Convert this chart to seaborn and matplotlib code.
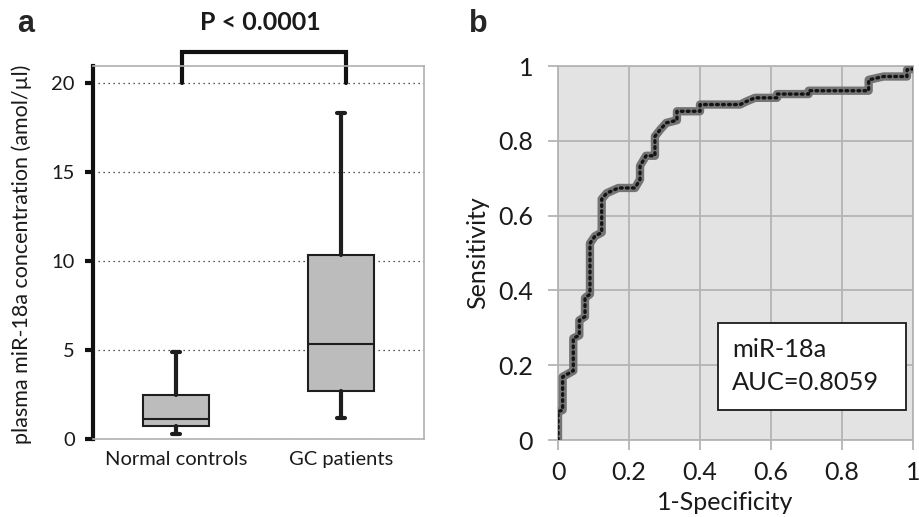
import matplotlib
matplotlib.use("Agg")
import matplotlib.pyplot as plt
import seaborn as sns
from matplotlib.patches import Rectangle

# panel a: box summary
groups = ["Normal controls", "GC patients"]
whisker_low = [0.28, 1.18]
q1 = [0.74, 2.70]
median = [1.12, 5.34]
q3 = [2.47, 10.34]
whisker_high = [4.88, 18.3]
y_ticks = [0, 5, 10, 15, 20]
p_text = "P < 0.0001"

# panel b: ROC curve vertices
fpr = [0.0, 0.0, 0.013, 0.013, 0.03, 0.043, 0.043, 0.06, 0.06, 0.076, 0.076,
       0.09, 0.09, 0.104, 0.123, 0.123, 0.137, 0.17, 0.217, 0.231, 0.231,
       0.248, 0.273, 0.273, 0.288, 0.305, 0.335, 0.335, 0.4, 0.4, 0.513,
       0.53, 0.555, 0.617, 0.617, 0.706, 0.706, 0.875, 0.875, 0.917, 0.983,
       0.983, 1.0]
tpr = [0.0, 0.076, 0.08, 0.169, 0.178, 0.185, 0.272, 0.28, 0.32, 0.33, 0.38,
       0.39, 0.526, 0.545, 0.555, 0.644, 0.66, 0.674, 0.674, 0.697, 0.733,
       0.76, 0.76, 0.812, 0.83, 0.848, 0.855, 0.879, 0.879, 0.897, 0.897,
       0.905, 0.915, 0.915, 0.925, 0.925, 0.934, 0.934, 0.963, 0.972, 0.972,
       0.99, 0.992]
roc_ticks = [0, 0.2, 0.4, 0.6, 0.8, 1]
roc_ticklabels = ["0", "0.2", "0.4", "0.6", "0.8", "1"]
marker_name = "miR-18a"
auc_label = "AUC=0.8059"

sns.set_theme(style="white")
plt.rcParams["font.family"] = ["Lato", "DejaVu Sans"]

fig = plt.figure(figsize=(9.19, 5.17), dpi=100)

# ---------------- panel a
ax1 = fig.add_axes([0.1012, 0.1509, 0.3602, 0.7215])
stats = []
for i, g in enumerate(groups):
    stats.append(dict(label=g, whislo=whisker_low[i], q1=q1[i], med=median[i],
                      q3=q3[i], whishi=whisker_high[i], fliers=[]))
ax1.bxp(stats, positions=[0, 1], widths=0.4, patch_artist=True,
        capwidths=0.05, showfliers=False,
        boxprops=dict(facecolor="#bcbcbc", edgecolor="#1e1e1e", linewidth=1.5),
        medianprops=dict(color="#1e1e1e", linewidth=1.5),
        whiskerprops=dict(color="#1e1e1e", linewidth=3),
        capprops=dict(color="#1e1e1e", linewidth=3))
ax1.set_xlim(-0.5, 1.5)
ax1.set_ylim(0, 20.95)
ax1.set_yticks(y_ticks)
ax1.set_xticks([0, 1])
ax1.set_xticklabels(groups)
ax1.yaxis.grid(True, linestyle=(0, (1, 3)), color="#222222", linewidth=0.9)
ax1.set_axisbelow(True)
for s in ["top", "right", "bottom"]:
    ax1.spines[s].set_color("#b0b0b0")
    ax1.spines[s].set_linewidth(1.2)
ax1.spines["left"].set_color("#111111")
ax1.spines["left"].set_linewidth(3)
ax1.tick_params(axis="y", length=6, width=3, color="#111111", left=True,
                labelsize=14.5, pad=7, labelcolor="#1a1a1a")
ax1.tick_params(axis="x", length=0, labelsize=14.5, pad=9, labelcolor="#1a1a1a")

# significance bracket
bx = [0.036, 0.036, 1.03, 1.03]
by = [20, 21.74, 21.74, 20]
ax1.plot(bx, by, color="#111111", linewidth=3, clip_on=False,
         solid_joinstyle="miter")
ax1.text(0.51, 23.4, p_text, ha="center", va="center", fontsize=18,
         fontweight="bold", color="#1a1a1a")

fig.text(22 / 919, 0.509, "plasma miR-18a concentration (amol/\u00b5l)",
         rotation=90, ha="center", va="center", fontsize=15.5, color="#1a1a1a")

# ---------------- panel b
ax2 = fig.add_axes([0.6072, 0.1489, 0.3863, 0.7234])
ax2.set_facecolor("#e3e3e3")
sns.lineplot(x=fpr, y=tpr, sort=False, estimator=None, ax=ax2,
             color="#747474", linewidth=6, zorder=3)
sns.lineplot(x=fpr, y=tpr, sort=False, estimator=None, ax=ax2,
             color="#141414", linewidth=2.4, linestyle=(0, (0.5, 1.3)),
             dash_capstyle="round", zorder=4)
ax2.set_xlim(0, 1)
ax2.set_ylim(0, 1)
ax2.set_xticks(roc_ticks)
ax2.set_xticklabels(roc_ticklabels)
ax2.set_yticks(roc_ticks)
ax2.set_yticklabels(roc_ticklabels)
ax2.grid(True, color="#b4b4b4", linewidth=1.3)
ax2.set_axisbelow(True)
for s in ax2.spines.values():
    s.set_color("#b4b4b4")
    s.set_linewidth(1.3)
ax2.tick_params(axis="y", length=7, width=1.3, color="#b4b4b4", left=True,
                labelsize=18, labelcolor="#1a1a1a", pad=11)
ax2.tick_params(axis="x", length=7, width=1.3, color="#b4b4b4", bottom=True,
                labelsize=18, labelcolor="#1a1a1a", pad=8)
fig.text(725 / 919, 1 - 510 / 517, "1-Specificity", fontsize=18,
         color="#1a1a1a", ha="center", va="baseline")
fig.text(478 / 919, 1 - 253 / 517, "Sensitivity", fontsize=18,
         color="#1a1a1a", ha="center", va="center", rotation=90)

ax2.add_patch(Rectangle((0.451, 0.080), 0.529, 0.233, transform=ax2.transAxes,
                        facecolor="white", edgecolor="#1a1a1a", linewidth=1.3,
                        zorder=6))
ax2.text(0.49, 0.241, marker_name, transform=ax2.transAxes, fontsize=18.3,
         va="center", ha="left", color="#1a1a1a", zorder=7)
ax2.text(0.49, 0.155, auc_label, transform=ax2.transAxes, fontsize=18.3,
         va="center", ha="left", color="#1a1a1a", zorder=7)

# panel letters
fig.text(26 / 919, 1 - 32 / 517, "a", fontsize=22, fontweight="bold",
         family="Liberation Sans", ha="center", va="baseline")
fig.text(478 / 919, 1 - 32 / 517, "b", fontsize=22, fontweight="bold",
         family="Liberation Sans", ha="center", va="baseline")

fig.savefig("out.png", dpi=100)
